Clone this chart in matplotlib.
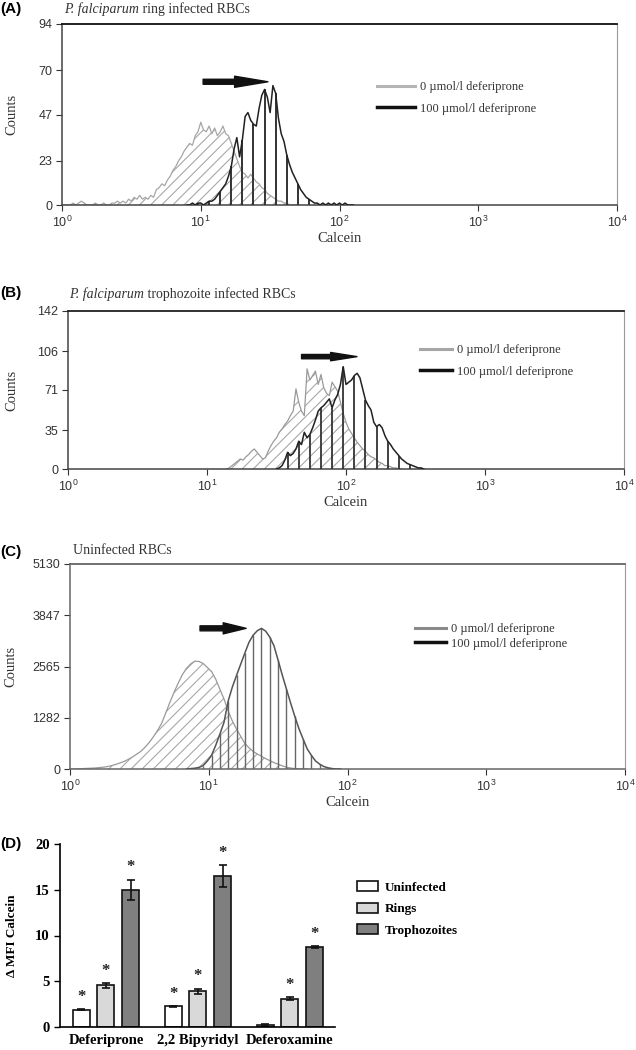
import numpy as np
import matplotlib
matplotlib.use("Agg")
import matplotlib.pyplot as plt
from matplotlib.lines import Line2D
from matplotlib.ticker import NullLocator

plt.rcParams['mathtext.fontset'] = 'custom'
plt.rcParams['mathtext.rm'] = 'Liberation Sans'
plt.rcParams['hatch.linewidth'] = 0.8
plt.rcParams['hatch.color'] = '#a8a8a8'

SERIF = 'Liberation Serif'
SANS = 'Liberation Sans'

# ---- flow histograms: counts per channel, channels spaced in log10(calcein) ----
step_ab = 0.02
step_c = 0.03

# (A) ring infected RBCs
ring_ctrl_start = 0.00
ring_ctrl = [0, 0, 0, 0, 1, 0, 1, 2, 1, 0,
             0, 0, 1, 0, 0, 1, 0, 0, 1, 1,
             2, 1, 2, 1, 3, 2, 4, 3, 5, 3,
             4, 3, 5, 4, 8, 9, 11, 10, 13, 15,
             18, 20, 23, 25, 28, 30, 32, 31, 36, 38,
             43, 39, 38, 41, 37, 40, 36, 38, 41, 37,
             36, 32, 28, 24, 20, 17, 16, 14, 16, 14,
             12, 11, 9, 8, 6, 5, 4, 3, 2, 2,
             1, 1, 0, 0, 0, 0]
ring_treat_start = 0.90
ring_treat = [0, 0, 1, 0, 1, 1, 0, 1, 2, 2,
              3, 5, 7, 9, 11, 15, 20, 29, 35, 25,
              34, 46, 48, 44, 42, 41, 50, 57, 60, 56,
              48, 62, 58, 45, 37, 33, 26, 21, 17, 14,
              11, 8, 6, 4, 3, 2, 1, 1, 0, 1,
              0, 1, 0, 1, 0, 1, 0, 1, 0, 0, 0]

# (B) trophozoite infected RBCs
troph_ctrl_start = 1.14
troph_ctrl = [0, 1, 3, 5, 7, 9, 8, 11, 13, 16,
              18, 15, 12, 9, 10, 16, 21, 25, 28, 33,
              36, 40, 43, 48, 52, 72, 60, 52, 48, 90,
              80, 84, 88, 76, 85, 73, 68, 66, 78, 74,
              70, 60, 50, 42, 36, 32, 28, 24, 21, 18,
              16, 13, 11, 10, 8, 6, 5, 3, 3, 2,
              1, 1, 0, 0]
troph_treat_start = 1.50
troph_treat = [0, 1, 3, 8, 15, 12, 14, 18, 25, 22,
               33, 28, 31, 37, 44, 52, 55, 57, 60, 63,
               55, 62, 67, 76, 92, 76, 78, 80, 84, 86,
               82, 72, 62, 57, 53, 42, 38, 40, 37, 30,
               25, 22, 18, 15, 12, 9, 7, 5, 4, 3,
               2, 1, 1, 0]

# (C) uninfected RBCs
uninf_ctrl_start = 0.00
uninf_ctrl = [0, 0, 5, 10, 15, 20, 25, 35, 45, 60,
              85, 115, 150, 190, 240, 300, 370, 440, 540, 660,
              800, 960, 1140, 1400, 1670, 1920, 2150, 2360, 2520, 2630,
              2700, 2690, 2640, 2540, 2440, 2250, 2000, 1750, 1450, 1200,
              1000, 820, 640, 530, 440, 375, 320, 260, 210, 160,
              120, 80, 45, 25, 10, 5, 0, 0]
uninf_treat_start = 0.84
uninf_treat = [0, 10, 20, 40, 85, 200, 340, 590, 870, 1170,
               1700, 2050, 2340, 2620, 2900, 3170, 3350, 3460, 3520, 3450,
               3300, 3085, 2720, 2350, 2000, 1650, 1320, 1010, 750, 500,
               340, 200, 120, 60, 30, 10, 0, 0]

decades = [1, 10, 100, 1000, 10000]
decade_labels = [r'$\mathregular{10^{%d}}$' % i for i in range(5)]
ring_yticks = [0, 23, 47, 70, 94]
troph_yticks = [0, 35, 71, 106, 142]
uninf_yticks = [0, 1282, 2565, 3847, 5130]
legend_labels = ['0 \u00b5mol/l deferiprone', '100 \u00b5mol/l deferiprone']

# ---- (D) delta MFI bars ----
drugs = ['Deferiprone', '2,2 Bipyridyl', 'Deferoxamine']
cell_groups = ['Uninfected', 'Rings', 'Trophozoites']
mfi_uninfected = [1.9, 2.25, 0.2]
mfi_rings = [4.55, 3.9, 3.1]
mfi_troph = [15.0, 16.5, 8.7]
err_uninfected = [0.08, 0.05, 0.1]
err_rings = [0.25, 0.3, 0.15]
err_troph = [1.1, 1.2, 0.1]
sig_uninfected = [True, True, False]
sig_rings = [True, True, True]
sig_troph = [True, True, True]


def px(x, y):
    # pixel position in the 636x1050 picture -> figure fraction
    return x / 636.0, 1 - y / 1050.0


def draw_hist(ax, c_start, ctrl, t_start, treat, step, stride, c_col, t_col, v_col, v_lw):
    xc = 10 ** (c_start + step * np.arange(len(ctrl)))
    xt = 10 ** (t_start + step * np.arange(len(treat)))
    ax.fill_between(xc, ctrl, 0, facecolor='none', edgecolor='#a8a8a8',
                    hatch='///', linewidth=0, zorder=1)
    ax.plot(xc, ctrl, color=c_col, lw=0.9, zorder=2)
    ax.vlines(xt[::stride], 0, np.asarray(treat)[::stride], color=v_col, lw=v_lw, zorder=3)
    ax.plot(xt, treat, color=t_col, lw=1.1, zorder=4)


def style_hist(ax, yticks, spine_col, ylabel_x):
    ax.set_xscale('log')
    ax.set_xlim(1, 10000)
    ax.set_ylim(0, yticks[-1])
    ax.set_xticks(decades)
    ax.set_xticklabels(decade_labels)
    ax.xaxis.set_minor_locator(NullLocator())
    ax.set_yticks(yticks)
    ax.tick_params(direction='out', length=4, width=0.8, pad=3, labelsize=9,
                   colors='#333333')
    for lab in ax.get_xticklabels() + ax.get_yticklabels():
        lab.set_fontfamily(SANS)
    for side in ['left', 'bottom']:
        ax.spines[side].set_color('#444444')
        ax.spines[side].set_linewidth(1.1)
    ax.spines['top'].set_color(spine_col)
    ax.spines['top'].set_linewidth(1.3)
    ax.spines['right'].set_color('#999999')
    ax.spines['right'].set_linewidth(0.8)
    ax.set_ylabel('Counts', fontfamily=SERIF, fontsize=10.5, color='#333333')
    ax.yaxis.set_label_coords(ylabel_x, 0.5)
    ax.set_xlabel('Calcein', fontfamily=SERIF, fontsize=10.5, color='#333333')


def hist_legend(ax, anchor, c_col, t_col, hlen, spacing):
    handles = [Line2D([], [], color=c_col, lw=2.2), Line2D([], [], color=t_col, lw=2.5)]
    ax.legend(handles, legend_labels, loc='upper left', bbox_to_anchor=anchor,
              frameon=False, prop={'family': SERIF, 'size': 9}, handlelength=hlen,
              handletextpad=0.4, labelspacing=spacing, borderpad=0, borderaxespad=0,
              labelcolor='#333333')


fig = plt.figure(figsize=(6.36, 10.5), dpi=100, facecolor='white')

# ---------------- (A) ----------------
axA = fig.add_axes([62 / 636, 1 - 205 / 1050, 555 / 636, 181 / 1050])
draw_hist(axA, ring_ctrl_start, ring_ctrl, ring_treat_start, ring_treat, step_ab, 4,
          '#a6a6a6', '#222222', '#333333', 1.4)
style_hist(axA, ring_yticks, '#111111', -0.079)
axA.xaxis.set_label_coords(0.5, -0.15)
hist_legend(axA, (0.568, 0.684), '#b4b4b4', '#111111', 3.0, 0.75)
axA.annotate('', xy=(30.5, 64), xytext=(10.4, 64),
             arrowprops=dict(arrowstyle='simple,head_length=2.4,head_width=0.8,tail_width=0.36',
                             fc='#111111', ec='#111111', mutation_scale=10, shrinkA=0, shrinkB=0))

# ---------------- (B) ----------------
axB = fig.add_axes([68 / 636, 1 - 469 / 1050, 556 / 636, 158 / 1050])
draw_hist(axB, troph_ctrl_start, troph_ctrl, troph_treat_start, troph_treat, step_ab, 4,
          '#9a9a9a', '#222222', '#333333', 1.3)
style_hist(axB, troph_yticks, '#222222', -0.09)
axB.xaxis.set_label_coords(0.5, -0.17)
hist_legend(axB, (0.633, 0.788), '#a6a6a6', '#111111', 2.6, 0.75)
axB.annotate('', xy=(120, 101), xytext=(47.9, 101),
             arrowprops=dict(arrowstyle='simple,head_length=1.9,head_width=0.6,tail_width=0.31',
                             fc='#111111', ec='#111111', mutation_scale=10, shrinkA=0, shrinkB=0))

# ---------------- (C) ----------------
axC = fig.add_axes([70 / 636, 1 - 769 / 1050, 555 / 636, 205 / 1050])
draw_hist(axC, uninf_ctrl_start, uninf_ctrl, uninf_treat_start, uninf_treat, step_c, 2,
          '#999999', '#555555', '#666666', 1.0)
style_hist(axC, uninf_yticks, '#666666', -0.094)
axC.spines['left'].set_color('#666666')
axC.spines['bottom'].set_color('#666666')
axC.xaxis.set_label_coords(0.5, -0.13)
hist_legend(axC, (0.622, 0.712), '#8a8a8a', '#111111', 2.5, 0.2)
axC.annotate('', xy=(18.6, 3520), xytext=(8.65, 3520),
             arrowprops=dict(arrowstyle='simple,head_length=1.65,head_width=0.8,tail_width=0.36',
                             fc='#111111', ec='#111111', mutation_scale=10, shrinkA=0, shrinkB=0))

# ---------------- (D) ----------------
axD = fig.add_axes([60 / 636, 1 - 1027 / 1050, 275 / 636, 183 / 1050])
centers = np.arange(len(drugs))
width = 0.185
offset = 0.27
series = [(mfi_uninfected, err_uninfected, sig_uninfected, 'white'),
          (mfi_rings, err_rings, sig_rings, '#d9d9d9'),
          (mfi_troph, err_troph, sig_troph, '#7f7f7f')]
for k, (vals, errs, sig, col) in enumerate(series):
    xs = centers + (k - 1) * offset
    axD.bar(xs, vals, width, yerr=errs, color=col, edgecolor='#111111', linewidth=1.2,
            error_kw=dict(ecolor='#111111', elinewidth=1.2, capsize=3, capthick=1.2),
            label=cell_groups[k], zorder=2)
    for x, v, e, s in zip(xs, vals, errs, sig):
        if s:
            axD.text(x, v + e + 1.35, '*', ha='center', va='center', fontfamily=SERIF,
                     fontweight='bold', fontsize=12, color='#222222')
axD.set_xlim(-0.5, 2.49)
axD.set_ylim(0, 20)
axD.set_yticks([0, 5, 10, 15, 20])
axD.set_xticks(centers)
axD.set_xticklabels(drugs)
axD.tick_params(axis='x', length=0, pad=5)
axD.tick_params(axis='y', direction='out', length=4, width=1)
for lab in axD.get_xticklabels() + axD.get_yticklabels():
    lab.set_fontfamily(SERIF)
    lab.set_fontweight('bold')
    lab.set_fontsize(10.5)
axD.spines['top'].set_visible(False)
axD.spines['right'].set_visible(False)
axD.spines['left'].set_linewidth(1.2)
axD.spines['bottom'].set_linewidth(1.2)
axD.set_ylabel('\u0394 MFI Calcein', fontfamily=SERIF, fontweight='bold', fontsize=9.5)
axD.yaxis.set_label_coords(-0.153, 0.5)
axD.legend(loc='upper left', bbox_to_anchor=px(357, 881), bbox_transform=fig.transFigure,
           frameon=False, prop={'family': SERIF, 'weight': 'bold', 'size': 9.5},
           handlelength=1.6, handleheight=0.8, handletextpad=0.5, labelspacing=0.68,
           borderpad=0, borderaxespad=0)

# ---------------- panel titles ----------------
fig.text(*px(0, 9), '(A)', fontfamily=SANS, fontweight='bold', fontsize=11, va='center')
tA = fig.text(*px(64, 9), 'P. falciparum', fontfamily=SERIF, style='italic', fontsize=10,
              va='center', color='#333333')
axA.annotate(' ring infected RBCs', xy=(1, 0.5), xycoords=tA, va='center', ha='left',
             fontfamily=SERIF, fontsize=10, color='#333333', annotation_clip=False)

fig.text(*px(0, 293), '(B)', fontfamily=SANS, fontweight='bold', fontsize=11, va='center')
tB = fig.text(*px(69, 294), 'P. falciparum', fontfamily=SERIF, style='italic', fontsize=10,
              va='center', color='#333333')
axB.annotate(' trophozoite infected RBCs', xy=(1, 0.5), xycoords=tB, va='center', ha='left',
             fontfamily=SERIF, fontsize=10, color='#333333', annotation_clip=False)

fig.text(*px(0, 552), '(C)', fontfamily=SANS, fontweight='bold', fontsize=11, va='center')
fig.text(*px(73, 551), 'Uninfected RBCs', fontfamily=SERIF, fontsize=10, va='center',
         color='#333333')

fig.text(*px(0, 844), '(D)', fontfamily=SANS, fontweight='bold', fontsize=11, va='center')

fig.savefig('out.png', dpi=100, facecolor='white')
